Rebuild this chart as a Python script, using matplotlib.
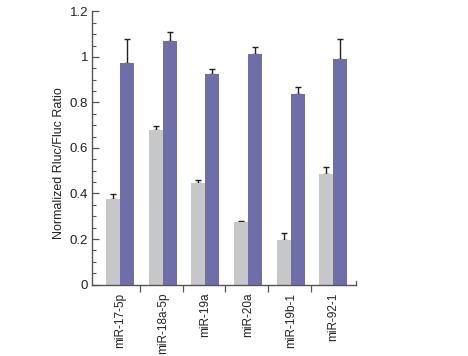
import matplotlib
matplotlib.use("Agg")
import matplotlib.pyplot as plt
from matplotlib.ticker import MultipleLocator, FixedLocator
import numpy as np

plt.rcParams['font.family'] = ['Liberation Sans', 'DejaVu Sans']

categories = ["miR-17-5p", "miR-18a-5p", "miR-19a", "miR-20a", "miR-19b-1", "miR-92-1"]
gray_values = [0.378, 0.677, 0.446, 0.276, 0.195, 0.485]
gray_err = [0.020, 0.020, 0.015, 0.004, 0.032, 0.031]
blue_values = [0.975, 1.072, 0.925, 1.012, 0.837, 0.993]
blue_err = [0.104, 0.036, 0.023, 0.031, 0.032, 0.085]
ytick_labels = ["0", "0.2", "0.4", "0.6", "0.8", "1", "1.2"]
ytick_values = [0, 0.2, 0.4, 0.6, 0.8, 1.0, 1.2]

gray_color = "#c6c7c9"
blue_color = "#6e6ea8"

fig = plt.figure(figsize=(4.68, 3.56), dpi=100)
ax = fig.add_axes([0.197, 0.2008, 0.563, 0.767])

x = np.arange(len(categories))
w = 0.328
ax.bar(x - w / 2, gray_values, width=w, color=gray_color, linewidth=0, zorder=2)
ax.bar(x + w / 2, blue_values, width=w, color=blue_color, linewidth=0, zorder=2)
ax.errorbar(x - w / 2, gray_values, yerr=[np.zeros(len(x)), gray_err], fmt="none",
            ecolor="#222222", elinewidth=1.0, capsize=2.2, capthick=1.0, zorder=1)
ax.errorbar(x + w / 2, blue_values, yerr=[np.zeros(len(x)), blue_err], fmt="none",
            ecolor="#222222", elinewidth=1.0, capsize=2.2, capthick=1.0, zorder=1)

ax.set_xlim(-0.65, 5.52)
ax.set_ylim(0, 1.2)

for s in ["top", "right"]:
    ax.spines[s].set_visible(False)
for s in ["left", "bottom"]:
    ax.spines[s].set_color("#555555")
    ax.spines[s].set_linewidth(1.0)

ax.yaxis.set_major_locator(FixedLocator(ytick_values))
ax.yaxis.set_minor_locator(MultipleLocator(0.05))
ax.set_yticklabels(ytick_labels)
ax.tick_params(axis="y", which="major", direction="in", length=5, width=0.9,
               color="#555555", labelsize=9.5, pad=3, labelcolor="#222222")
ax.tick_params(axis="y", which="minor", direction="in", length=3, width=0.8,
               color="#555555")

ax.set_xticks(x)
ax.set_xticklabels(categories, rotation=90, fontsize=8.5, color="#222222")
ax.xaxis.set_minor_locator(FixedLocator(x[:-1] + 0.47))
ax.tick_params(axis="x", which="major", length=0, pad=6)
ax.tick_params(axis="x", which="minor", direction="out", length=5, width=0.9,
               color="#555555")
ax.axvline(ax.get_xlim()[1], ymin=0, ymax=0.012, color="#555555", lw=0.9, clip_on=False)

ax.set_ylabel("Normalized Rluc/Fluc Ratio", fontsize=9, color="#222222")
ax.yaxis.set_label_coords(-0.105, 0.445)

fig.savefig("out.png", dpi=100)
